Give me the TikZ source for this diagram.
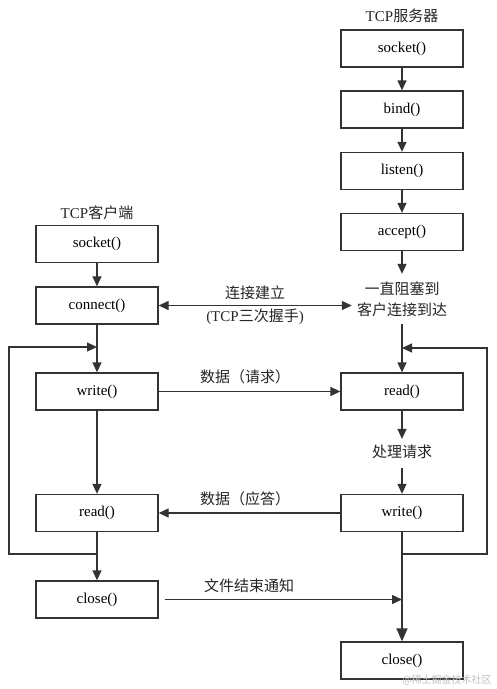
\documentclass[tikz,border=0pt]{standalone}
\usepackage{fontspec}
\setmainfont{Liberation Serif}
\newfontfamily\cjk{Noto Sans CJK SC}
\usetikzlibrary{arrows.meta}
\begin{document}
\begin{tikzpicture}[x=1pt,y=-1pt,
  box/.style={draw=black!80,line width=1.3pt,minimum width=122pt,minimum height=37pt,inner sep=0pt,font=\fontsize{15}{18}\selectfont},
  lbl/.style={inner sep=1pt,font=\fontsize{15}{21}\selectfont,align=center,text=black!85},
  arr/.style={draw=black!80,line width=1.3pt,-{Triangle[length=10pt,width=9pt]}},
  darr/.style={draw=black!80,line width=1.3pt,{Triangle[length=10pt,width=9pt]}-{Triangle[length=10pt,width=9pt]}},
  bigarr/.style={draw=black!80,line width=1.3pt,-{Triangle[length=13pt,width=11pt]}}]
\useasboundingbox[fill=white] (0,0) rectangle (496,689);
% server column
\node[lbl] (stitle) at (402,16) {TCP{\cjk 服务器}};
\node[box] (ss) at (402,48.5) {socket()};
\node[box] (sb) at (402,109.5) {bind()};
\node[box] (sl) at (402,171) {listen()};
\node[box] (sa) at (402,232) {accept()};
\node[lbl] (wait) at (402,299.5) {{\cjk 一直阻塞到}\\{\cjk 客户连接到达}};
\node[box] (sr) at (402,391.5) {read()};
\node[lbl] (proc) at (402,452) {{\cjk 处理请求}};
\node[box] (sw) at (402,513) {write()};
\node[box] (sc) at (402,660.5) {close()};
% client column
\node[lbl] (ctitle) at (97,213) {TCP{\cjk 客户端}};
\node[box] (cs) at (97,244) {socket()};
\node[box] (cc) at (97,305.5) {connect()};
\node[box] (cw) at (97,391.5) {write()};
\node[box] (cr) at (97,513) {read()};
\node[box] (ccl) at (97,599.5) {close()};
% junctions
\coordinate (rj) at (402,348);
\coordinate (rb) at (402,554);
\coordinate (lj) at (97,347);
\coordinate (lb) at (97,554);
% server arrows
\draw[arr] (ss) -- (sb);
\draw[arr] (sb) -- (sl);
\draw[arr] (sl) -- (sa);
\draw[arr] (sa) -- ([yshift=7pt]wait.north);
\draw[arr] ([yshift=-6pt]wait.south) -- (sr.north);
\draw[arr] (rb) -- (487,554) -- (487,348) -- (rj);
\draw[arr] (sr) -- ([yshift=5pt]proc.north);
\draw[arr] ([yshift=-8pt]proc.south) -- (sw.north);
\draw[bigarr] (sw) -- (sc);
% client arrows
\draw[arr] (cs) -- (cc);
\draw[arr] (cc) -- (cw);
\draw[arr] (cw) -- (cr);
\draw[arr] (cr) -- (ccl);
\draw[arr] (lb) -- (9,554) -- (9,347) -- (lj);
% cross arrows
\draw[darr] (cc.east) -- ([xshift=-4pt]cc.east -| wait.west);
\node[lbl] (l1) at (255,293) {{\cjk 连接建立}};
\node[lbl] (l2) at (255,317) {(TCP{\cjk 三次握手})};
\draw[arr] (cw) -- (sr);
\node[lbl] (l3) at (245,377) {{\cjk 数据（请求）}};
\draw[arr] (sw) -- (cr);
\node[lbl] (l4) at (245,499) {{\cjk 数据（应答）}};
\draw[arr] ([xshift=6pt]ccl.east) -- (ccl.east -| sc);
\node[lbl] (l5) at (249,586) {{\cjk 文件结束通知}};
% watermark
\node[text=black!25,font=\cjk\fontsize{10}{10}\selectfont,inner sep=0pt] (wm) at (447,680) {@稀土掘金技术社区};
\end{tikzpicture}
\end{document}
